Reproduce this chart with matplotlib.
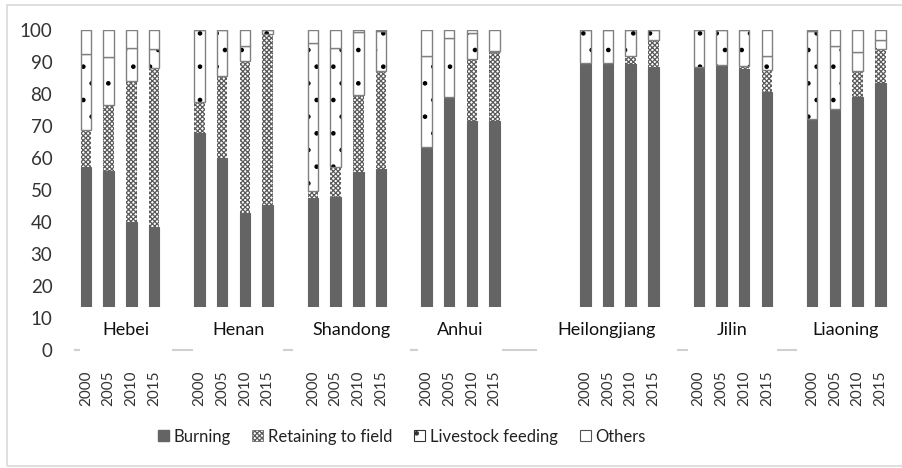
import matplotlib
matplotlib.use('Agg')
import matplotlib.pyplot as plt
from matplotlib.patches import Rectangle

plt.rcParams['font.family'] = ['Lato', 'DejaVu Sans']
plt.rcParams['hatch.linewidth'] = 0.9

provinces = ['Hebei', 'Henan', 'Shandong', 'Anhui', 'Heilongjiang', 'Jilin', 'Liaoning']
years = ['2000', '2005', '2010', '2015']

# shares (%) per province, one value per year
burning = [
    [57.2, 55.9, 40.0, 38.5],
    [67.6, 59.8, 42.6, 45.2],
    [47.3, 47.6, 55.6, 56.4],
    [63.4, 78.8, 71.5, 71.5],
    [89.6, 89.6, 89.1, 88.4],
    [88.4, 88.9, 87.6, 80.6],
    [72.0, 75.1, 79.0, 83.4],
]
retaining = [
    [11.6, 20.5, 43.9, 49.4],
    [9.8, 25.7, 47.6, 53.3],
    [2.4, 9.6, 24.0, 30.7],
    [0.0, 0.0, 19.2, 21.4],
    [0.0, 0.0, 2.6, 8.3],
    [0.0, 0.0, 1.1, 6.8],
    [0.0, 0.0, 8.1, 10.4],
]
livestock = [
    [23.6, 15.1, 10.2, 5.9],
    [22.3, 14.5, 4.7, 1.5],
    [46.0, 36.9, 19.5, 12.5],
    [28.3, 18.5, 8.1, 0.4],
    [10.4, 10.4, 8.3, 3.3],
    [11.6, 11.1, 11.3, 4.3],
    [27.5, 19.8, 5.8, 2.9],
]
others = [
    [7.6, 8.5, 5.9, 6.2],
    [0.3, 0.0, 5.1, 0.0],
    [4.3, 5.9, 0.9, 0.4],
    [8.3, 2.7, 1.2, 6.7],
    [0.0, 0.0, 0.0, 0.0],
    [0.0, 0.0, 0.0, 8.3],
    [0.5, 5.1, 7.1, 3.3],
]

# layout: first slot of each province group and the label box extents (in slot units)
group_start = [0, 5, 10, 15, 22, 27, 32]
box_left = [-0.26, 4.7, 9.12, 14.63, 19.87, 26.52, 31.32]
box_right = [3.8, 8.7, 14.27, 18.33, 26.03, 30.44, 35.6]

fig = plt.figure(figsize=(9.03, 4.68), dpi=100)
ax = fig.add_axes([0.0826, 0.2521, 0.9049, 0.6848])

# light figure border
fig.patches.append(Rectangle((7 / 903, 2 / 468), 1.0, 461 / 468, transform=fig.transFigure,
                             fill=False, edgecolor='#d9d9d9', linewidth=1.2))

w = 0.46
edge = '#808080'
xs, xl = [], []
for g in range(len(provinces)):
    pos = [group_start[g] + i for i in range(4)]
    b = burning[g]
    r = retaining[g]
    l = livestock[g]
    o = others[g]
    b_r = [b[i] + r[i] for i in range(4)]
    b_r_l = [b_r[i] + l[i] for i in range(4)]
    ax.bar(pos, b, w, color='#646464', edgecolor='#646464', linewidth=0.8, zorder=2)
    # retaining: checker pattern
    ax.bar(pos, r, w, bottom=b, color='white', edgecolor='#5a5a5a', hatch='xxxxxxx',
           linewidth=0, zorder=2)
    # livestock: sparse black dots, grey outline
    ax.bar(pos, l, w, bottom=b_r, color='white', edgecolor='black', hatch='.',
           linewidth=0, zorder=2)
    ax.bar(pos, [v if v > 0.5 else 0 for v in l], w, bottom=b_r, fill=False,
           edgecolor=edge, linewidth=1.0, zorder=2.1)
    ax.bar(pos, o, w, bottom=b_r_l, color='white', edgecolor=edge,
           linewidth=1.0, zorder=2.1)
    xs += pos
    xl += years
    # province label box covering the bar bottoms
    ax.add_patch(Rectangle((box_left[g], -0.8), box_right[g] - box_left[g], 14.3,
                           facecolor='white', edgecolor='none', zorder=3, clip_on=False))
    ax.text((box_left[g] + box_right[g]) / 2, 6.2, provinces[g], ha='center', va='center',
            fontsize=13, color='#111111', zorder=4)

ax.set_xlim(-0.5, 35.5)
ax.set_ylim(0, 100)
ax.set_yticks(range(0, 101, 10))
ax.set_xticks(xs)
ax.set_xticklabels(xl, rotation=90, fontsize=11, color='#333333')
ax.tick_params(axis='y', length=0, pad=16, labelsize=13.5, labelcolor='#333333')
ax.tick_params(axis='x', length=0, pad=15)
for s in ['top', 'right', 'left']:
    ax.spines[s].set_visible(False)
ax.spines['bottom'].set_color('#d0d0d0')
ax.spines['bottom'].set_linewidth(1.5)

# legend proxies
hb = ax.bar([0], [0], color='#646464', edgecolor='#646464')
hr = ax.bar([0], [0], color='white', edgecolor='#5a5a5a', hatch='xxxxxxx', linewidth=0.5)
hl = ax.bar([0], [0], color='white', edgecolor='#333333', hatch='.', linewidth=0.8)
ho = ax.bar([0], [0], color='white', edgecolor='#555555', linewidth=0.8)
fig.legend([hb, hr, hl, ho], ['Burning', 'Retaining to field', 'Livestock feeding', 'Others'],
           loc='center', bbox_to_anchor=(0.445, 0.067), ncol=4, frameon=False,
           fontsize=12, handlelength=0.65, handleheight=0.65, handletextpad=0.3,
           columnspacing=1.3, labelcolor='#222222')

fig.savefig('out.png', dpi=100)
